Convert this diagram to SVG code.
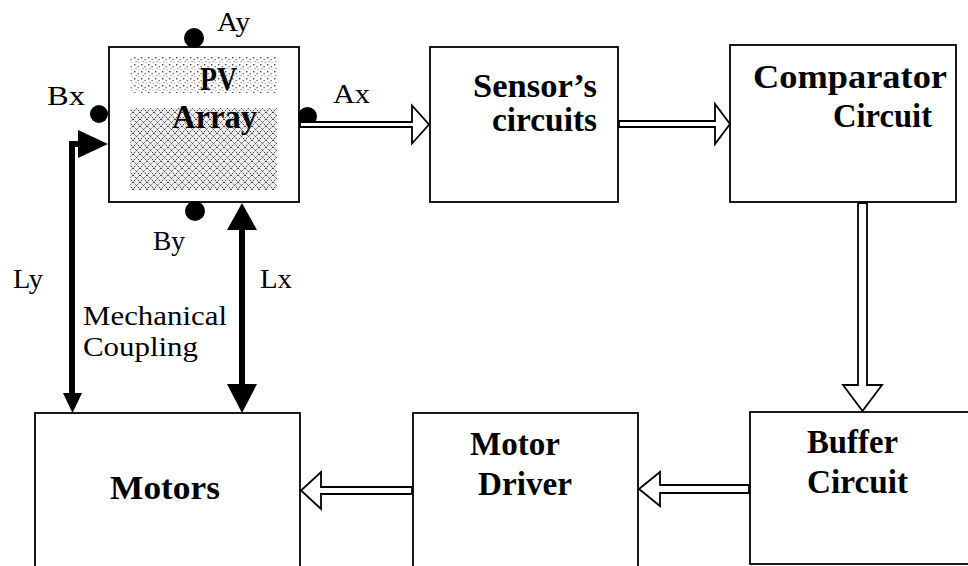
<svg xmlns="http://www.w3.org/2000/svg" width="968" height="566" viewBox="0 0 968 566">
<defs>
<style>
.box{fill:#fff;stroke:#000;stroke-width:1.8}
.b{font-family:"Liberation Serif","Times New Roman",serif;font-weight:bold;font-size:33px;fill:#000}
.r{font-family:"Liberation Serif","Times New Roman",serif;font-size:28px;fill:#000}
.blk{fill:#fff;stroke:#000;stroke-width:1.8;stroke-linejoin:miter}
.thick{stroke:#000;stroke-width:6;fill:none}
.head{fill:#000}
.dot{fill:#000}
</style>
<pattern id="light" width="7" height="7" patternUnits="userSpaceOnUse">
<rect width="7" height="7" fill="#fff"/>
<rect x="1" y="1" width="1.4" height="1.4" fill="#444"/>
<rect x="4.5" y="3" width="1.3" height="1.3" fill="#666"/>
<rect x="2.5" y="5" width="1.1" height="1.1" fill="#777"/>
<rect x="5.5" y="6" width="1" height="1" fill="#999"/>
</pattern>
<pattern id="dense" width="7" height="7" patternUnits="userSpaceOnUse">
<rect width="7" height="7" fill="#eee"/>
<path d="M0,0 L7,7 M7,0 L0,7" stroke="#333" stroke-width="1" stroke-dasharray="1.3 1.1"/>
</pattern>
</defs>

<g id="pv-array">
<rect class="box" x="109" y="47" width="190" height="155"/>
<rect x="130" y="57" width="147" height="36" fill="url(#light)"/>
<rect x="130" y="108" width="147" height="82" fill="url(#dense)"/>
<text class="b" x="200" y="90" textLength="37" lengthAdjust="spacingAndGlyphs">PV</text>
<text class="b" x="172" y="128" textLength="85" lengthAdjust="spacingAndGlyphs">Array</text>
<circle class="dot" cx="194" cy="38" r="10"/>
<circle class="dot" cx="99" cy="114" r="9"/>
<circle class="dot" cx="195" cy="211" r="10"/>
<circle class="dot" cx="307.5" cy="116.5" r="9.5"/>
<text class="r" x="217" y="31" textLength="33" lengthAdjust="spacingAndGlyphs">Ay</text>
<text class="r" x="47" y="105" textLength="38" lengthAdjust="spacingAndGlyphs">Bx</text>
<text class="r" x="333" y="103" textLength="37" lengthAdjust="spacingAndGlyphs">Ax</text>
<text class="r" x="153" y="250" textLength="32" lengthAdjust="spacingAndGlyphs">By</text>
</g>

<g id="sensors">
<rect class="box" x="430" y="47" width="188" height="155"/>
<text class="b" x="597" y="97" text-anchor="end" font-size="31" textLength="124" lengthAdjust="spacingAndGlyphs">Sensor’s</text>
<text class="b" x="597" y="131" text-anchor="end" font-size="31" textLength="105" lengthAdjust="spacingAndGlyphs">circuits</text>
</g>

<g id="comparator">
<rect class="box" x="730" y="45" width="226" height="157"/>
<text class="b" x="947" y="88" text-anchor="end" textLength="194" lengthAdjust="spacingAndGlyphs">Comparator</text>
<text class="b" x="932" y="127" text-anchor="end" textLength="99" lengthAdjust="spacingAndGlyphs">Circuit</text>
</g>

<g id="buffer">
<rect class="box" x="750" y="412" width="230" height="152"/>
<text class="b" x="807" y="453" textLength="91" lengthAdjust="spacingAndGlyphs">Buffer</text>
<text class="b" x="807" y="493" textLength="101" lengthAdjust="spacingAndGlyphs">Circuit</text>
</g>

<g id="motor-driver">
<rect class="box" x="413" y="413" width="225" height="160"/>
<text class="b" x="470" y="455" textLength="90" lengthAdjust="spacingAndGlyphs">Motor</text>
<text class="b" x="478" y="495" textLength="94" lengthAdjust="spacingAndGlyphs">Driver</text>
</g>

<g id="motors">
<rect class="box" x="35" y="413" width="265" height="160"/>
<text class="b" x="110" y="499" textLength="110" lengthAdjust="spacingAndGlyphs">Motors</text>
</g>

<g id="mech-labels">
<text class="r" x="13" y="288" textLength="30" lengthAdjust="spacingAndGlyphs">Ly</text>
<text class="r" x="260" y="288" textLength="32" lengthAdjust="spacingAndGlyphs">Lx</text>
<text class="r" x="83" y="325" textLength="144" lengthAdjust="spacingAndGlyphs">Mechanical</text>
<text class="r" x="83" y="356" textLength="115" lengthAdjust="spacingAndGlyphs">Coupling</text>
</g>

<g id="connectors">
<polygon class="blk" points="300,122 412,122 412,105.5 429,124.5 412,143.5 412,127 300,127"/>
<polygon class="blk" points="619,121 715,121 715,104 730,124 715,144 715,127 619,127"/>
<polygon class="blk" points="858,203 858,385 843,385 862.5,411 882,385 867,385 867,203"/>
<polygon class="blk" points="749,485 660,485 660,472 639,489 660,506 660,493 749,493"/>
<polygon class="blk" points="412,487 321,487 321,472 301,490.5 321,509 321,494 412,494"/>
<path class="thick" d="M72,395 V144 H80"/>
<polygon class="head" points="78,130 108,144 78,158"/>
<polygon class="head" points="63,393 82,393 72.5,413"/>
<line class="thick" x1="242" y1="228" x2="242" y2="386"/>
<polygon class="head" points="227,230 257,230 242,203"/>
<polygon class="head" points="227,384 257,384 242,413"/>
</g>
</svg>
